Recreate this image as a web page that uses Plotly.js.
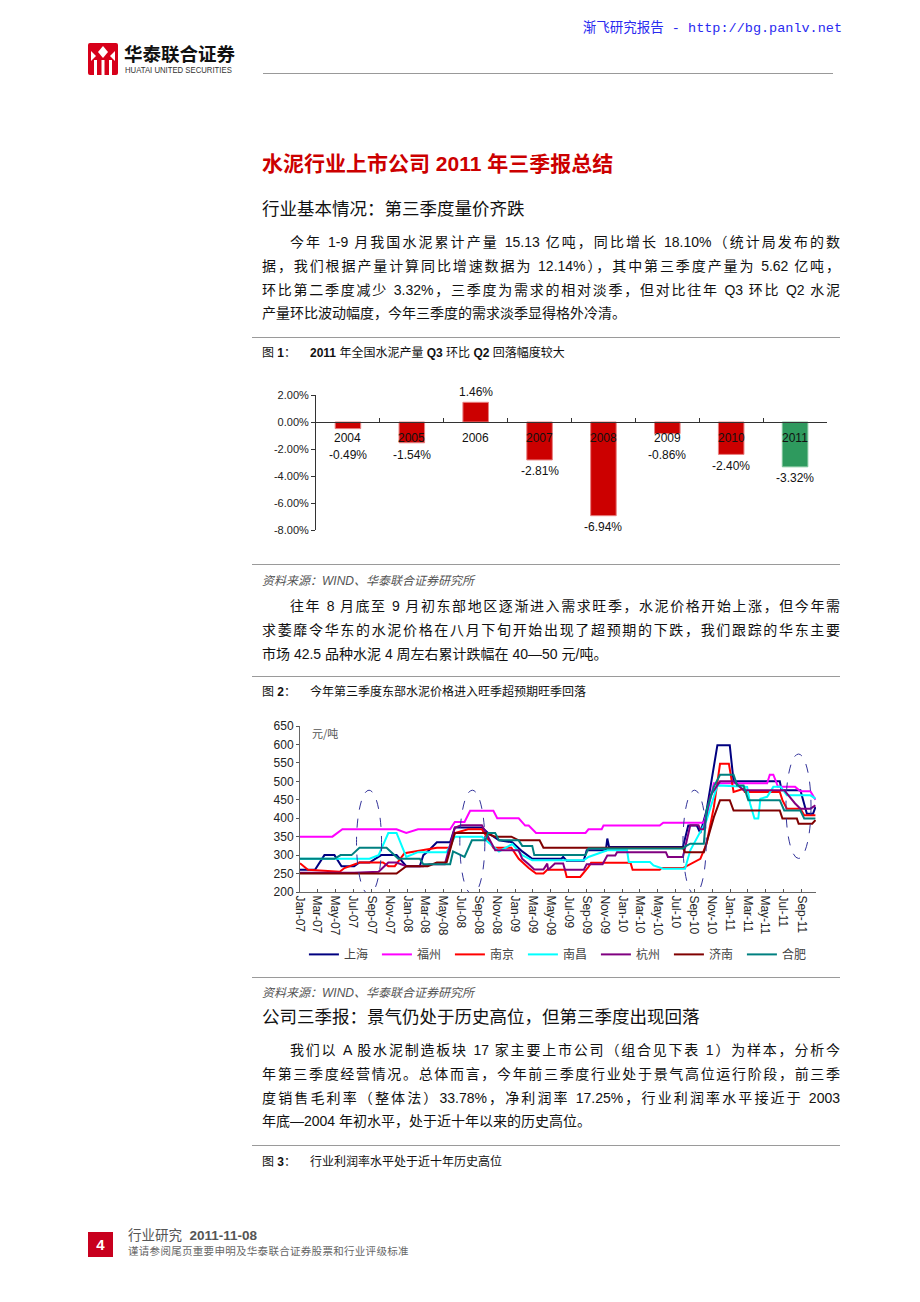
<!DOCTYPE html>
<html lang="zh-CN">
<head>
<meta charset="utf-8">
<script src="https://cdn.plot.ly/plotly-3.0.1.min.js"></script>
<style>
  body { margin: 0; background: #fff; }
  #page { position: relative; width: 920px; height: 1302px; overflow: hidden;
          font-family: "Liberation Sans", "Noto Sans CJK SC", sans-serif; color: #111; }
  .abs { position: absolute; white-space: nowrap; }
  .rule { position: absolute; left: 252px; width: 588px; height: 0; border-top: 1px solid #9a9a9a; }
  .para { position: absolute; left: 262px; width: 578px; font-size: 14px; line-height: 23.8px; }
  .para div { text-align: justify; text-align-last: justify; }
  .para div.ind { padding-left: 28px; }
  .para div.last { text-align-last: left; }
  .fig { position: absolute; left: 262px; font-size: 12px; line-height: 16px; color: #111; }
  .fig span.t { position: absolute; left: 48px; white-space: nowrap; }
  .src { position: absolute; left: 262px; font-size: 12px; line-height: 16px; font-style: italic; color: #555; white-space: nowrap; }
  .h2 { position: absolute; left: 262px; font-size: 17.5px; line-height: 22px; color: #111; white-space: nowrap; }
</style>
</head>
<body>
<div id="page">

  <!-- header -->
  <div class="abs" style="right:78px; top:20px; font-size:13.5px; line-height:18px; color:#2a2af0; font-family:'Liberation Mono','Noto Sans CJK SC',monospace;">渐飞研究报告 - http://bg.panlv.net</div>
  <svg class="abs" style="left:88px; top:43px" width="30" height="32" viewBox="0 0 30 32">
    <rect width="30" height="32" rx="2" fill="#d7001a"/>
    <path d="M15 3 L20 9 L15 15 L10 9 Z" fill="#fff"/>
    <path d="M3 8 L8 13 L3 18 Z" fill="#fff"/>
    <path d="M27 8 L22 13 L27 18 Z" fill="#fff"/>
    <rect x="6" y="17" width="3" height="15" fill="#fff"/>
    <rect x="13.5" y="17" width="3" height="15" fill="#fff"/>
    <rect x="21" y="17" width="3" height="15" fill="#fff"/>
  </svg>
  <div class="abs" style="left:124px; top:41px; font-size:18.5px; line-height:24px; font-weight:bold; color:#111; font-family:'Noto Sans CJK SC',sans-serif;">华泰联合证券</div>
  <div class="abs" style="left:125px; top:65px; font-size:9px; line-height:10px; color:#333; transform:scaleX(0.86); transform-origin:left top;">HUATAI UNITED SECURITIES</div>
  <div class="abs" style="left:263px; top:73px; width:570px; border-top:1px solid #999;"></div>

  <!-- title -->
  <div class="abs" style="left:262px; top:151px; font-size:21px; line-height:26px; font-weight:bold; color:#cc0000;">水泥行业上市公司 2011 年三季报总结</div>
  <div class="h2" style="top:198px;">行业基本情况：第三季度量价齐跌</div>

  <div class="para" style="top:231px;">
    <div class="ind">今年 1-9 月我国水泥累计产量 15.13 亿吨，同比增长 18.10%（统计局发布的数</div>
    <div>据，我们根据产量计算同比增速数据为 12.14%），其中第三季度产量为 5.62 亿吨，</div>
    <div>环比第二季度减少 3.32%，三季度为需求的相对淡季，但对比往年 Q3 环比 Q2 水泥</div>
    <div class="last">产量环比波动幅度，今年三季度的需求淡季显得格外冷清。</div>
  </div>

  <div class="rule" style="top:337px;"></div>
  <div class="fig" style="top:345px;">图 <b>1</b>：<span class="t"><b>2011</b> 年全国水泥产量 <b>Q3</b> 环比 <b>Q2</b> 回落幅度较大</span></div>

  <div id="chart1" class="abs" style="left:252px; top:380px; width:590px; height:180px;"></div>

  <div class="rule" style="top:564px;"></div>
  <div class="src" style="top:573px;">资料来源：WIND、华泰联合证券研究所</div>

  <div class="para" style="top:595px;">
    <div class="ind">往年 8 月底至 9 月初东部地区逐渐进入需求旺季，水泥价格开始上涨，但今年需</div>
    <div>求萎靡令华东的水泥价格在八月下旬开始出现了超预期的下跌，我们跟踪的华东主要</div>
    <div class="last">市场 42.5 品种水泥 4 周左右累计跌幅在 40—50 元/吨。</div>
  </div>

  <div class="rule" style="top:676px;"></div>
  <div class="fig" style="top:684px;">图 <b>2</b>：<span class="t">今年第三季度东部水泥价格进入旺季超预期旺季回落</span></div>

  <div id="chart2" class="abs" style="left:252px; top:705px; width:590px; height:270px;"></div>

  <div class="rule" style="top:977px;"></div>
  <div class="src" style="top:985px;">资料来源：WIND、华泰联合证券研究所</div>
  <div class="h2" style="top:1006px;">公司三季报：景气仍处于历史高位，但第三季度出现回落</div>

  <div class="para" style="top:1039px;">
    <div class="ind">我们以 A 股水泥制造板块 17 家主要上市公司（组合见下表 1）为样本，分析今</div>
    <div>年第三季度经营情况。总体而言，今年前三季度行业处于景气高位运行阶段，前三季</div>
    <div>度销售毛利率（整体法）33.78%，净利润率 17.25%，行业利润率水平接近于 2003</div>
    <div class="last">年底—2004 年初水平，处于近十年以来的历史高位。</div>
  </div>

  <div class="rule" style="top:1145px;"></div>
  <div class="fig" style="top:1154px;">图 <b>3</b>：<span class="t">行业利润率水平处于近十年历史高位</span></div>

  <!-- footer -->
  <div class="abs" style="left:88px; top:1232px; width:25px; height:25px; background:#c8001e; color:#fff; font-weight:bold; font-size:15px; line-height:25px; text-align:center;">4</div>
  <div class="abs" style="left:128px; top:1227px; font-size:13.5px; line-height:18px; color:#555;">行业研究&nbsp; <b>2011-11-08</b></div>
  <div class="abs" style="left:128px; top:1245px; font-size:10.5px; line-height:13px; color:#666; letter-spacing:0.3px;">谨请参阅尾页重要申明及华泰联合证券股票和行业评级标准</div>
</div>

<script>
// 图1：各年 Q3 环比 Q2 水泥产量变化（%）
const years = ['2004', '2005', '2006', '2007', '2008', '2009', '2010', '2011'];
const q3VsQ2 = [-0.49, -1.54, 1.46, -2.81, -6.94, -0.86, -2.40, -3.32];
const pctTicks = [2, 0, -2, -4, -6, -8];

// 图2：华东主要市场 42.5 水泥价格（元/吨）
const cities = ['上海', '福州', '南京', '南昌', '杭州', '济南', '合肥'];

const shanghaiDates = ['2007-01-01','2007-02-21','2007-03-25','2007-04-28','2007-05-22','2007-07-04','2007-07-22','2007-08-25','2007-10-04','2007-11-25','2007-12-28','2008-02-12','2008-02-24','2008-03-10','2008-04-10','2008-05-25','2008-06-10','2008-09-10','2008-10-01','2008-11-07','2008-12-22','2009-01-25','2009-02-28','2009-06-07','2009-06-13','2009-06-25','2009-08-22','2009-09-01','2009-11-05','2009-11-10','2009-11-16','2010-07-25','2010-08-12','2010-09-10','2010-09-22','2010-10-13','2010-11-19','2010-12-31','2011-01-13','2011-06-19','2011-06-25','2011-08-28','2011-09-19','2011-10-10','2011-10-18'];
const shanghaiPrices = [260,260,300,300,270,270,280,280,300,300,270,270,300,310,335,335,375,375,360,340,335,310,290,290,295,285,285,313,313,345,322,322,380,380,360,420,598,598,500,500,476,476,412,412,430];

const fuzhouDates = ['2007-01-01','2007-04-21','2007-05-25','2007-11-25','2007-12-28','2008-02-06','2008-05-25','2008-06-10','2008-07-13','2008-08-01','2008-10-19','2008-11-01','2009-01-13','2009-02-04','2009-02-16','2009-03-13','2009-08-28','2009-09-07','2009-10-22','2009-10-28','2010-05-07','2010-05-19','2010-10-04','2010-10-20','2010-11-07','2011-05-07','2011-05-16','2011-05-28','2011-06-13','2011-08-10','2011-08-28','2011-10-01','2011-10-18'];
const fuzhouPrices = [350,350,370,370,360,370,370,390,390,420,420,400,400,380,380,360,360,370,370,380,380,388,388,430,495,495,518,518,485,485,473,473,450];

const nanjingDates = ['2007-01-01','2007-01-28','2007-05-16','2007-06-01','2007-07-22','2007-10-10','2007-10-28','2007-11-19','2007-12-22','2008-01-25','2008-03-10','2008-04-10','2008-05-25','2008-06-10','2008-07-25','2008-09-10','2008-10-19','2008-12-19','2009-01-13','2009-02-16','2009-03-13','2009-04-07','2009-04-20','2009-06-19','2009-06-25','2009-08-10','2009-09-07','2009-09-16','2010-01-28','2010-02-04','2010-05-07','2010-05-13','2010-07-25','2010-09-22','2010-10-13','2010-11-07','2010-11-28','2010-12-28','2011-01-13','2011-02-16','2011-02-20','2011-06-19','2011-06-28','2011-07-13','2011-08-28','2011-09-10','2011-10-18'];
const nanjingPrices = [278,260,255,265,280,280,270,270,305,310,315,320,320,360,370,370,320,320,290,265,250,250,260,260,241,241,268,279,279,260,260,265,265,290,330,430,548,548,471,480,471,471,449,426,426,408,408];

const nanchangDates = ['2007-01-01','2007-08-25','2007-09-25','2007-10-28','2007-11-25','2007-12-28','2008-02-06','2008-05-13','2008-06-10','2008-09-10','2008-11-07','2008-12-22','2009-01-25','2009-02-28','2009-08-22','2009-09-07','2009-11-10','2010-01-16','2010-01-22','2010-04-04','2010-04-16','2010-05-19','2010-08-01','2010-08-19','2010-10-13','2010-11-19','2011-02-28','2011-03-10','2011-03-25','2011-04-07','2011-04-14','2011-05-07','2011-05-28','2011-06-22','2011-07-13','2011-10-01','2011-10-18'];
const nanchangPrices = [290,290,300,360,360,295,308,308,350,350,310,330,300,286,286,295,313,313,281,281,272,263,263,313,394,489,485,440,399,399,453,458,485,485,462,462,453];

const hangzhouDates = ['2007-01-01','2007-07-04','2007-09-25','2007-10-28','2007-11-25','2007-12-28','2008-02-24','2008-03-16','2008-05-07','2008-06-10','2008-07-01','2008-09-10','2008-10-01','2008-10-25','2009-01-13','2009-01-25','2009-02-16','2009-03-07','2009-04-07','2009-04-20','2009-04-23','2009-05-16','2009-06-13','2009-06-19','2009-08-22','2009-09-01','2009-10-25','2009-11-10','2009-12-07','2009-12-13','2010-05-28','2010-06-04','2010-07-25','2010-08-19','2010-09-16','2010-09-22','2010-10-04','2010-10-25','2010-11-28','2011-01-13','2011-02-16','2011-07-04','2011-08-10','2011-08-28','2011-10-01','2011-10-18'];
const hangzhouPrices = [252,252,255,280,280,270,270,275,275,374,381,381,350,313,313,290,275,261,261,277,260,277,277,260,260,275,275,299,299,308,308,295,295,381,381,370,370,460,500,500,476,476,440,426,426,435];

const jinanDates = ['2007-01-01','2007-11-25','2007-12-28','2008-03-10','2008-04-10','2008-05-13','2008-06-10','2008-09-22','2008-10-25','2008-12-19','2009-01-13','2009-03-25','2009-04-07','2010-07-25','2010-08-01','2010-10-04','2010-11-07','2010-11-28','2010-12-31','2011-01-13','2011-06-19','2011-06-28','2011-08-16','2011-08-22','2011-10-07','2011-10-18'];
const jinanPrices = [250,250,270,270,280,280,360,360,350,350,340,340,320,320,308,308,403,449,449,421,421,399,399,385,385,395];

const hefeiDates = ['2007-01-01','2007-04-28','2007-05-19','2007-06-25','2007-07-22','2007-10-22','2007-12-01','2008-02-12','2008-02-24','2008-05-25','2008-06-04','2008-07-13','2008-08-07','2008-09-22','2008-10-01','2008-10-25','2008-11-07','2009-01-13','2009-01-25','2009-02-28','2009-03-07','2009-08-28','2009-09-07','2010-07-25','2010-08-05','2010-08-19','2010-10-04','2010-10-13','2010-11-07','2010-11-28','2011-01-13','2011-01-25','2011-02-16','2011-03-04','2011-06-19','2011-07-04','2011-08-28','2011-09-10','2011-10-18'];
const hefeiPrices = [290,290,300,300,320,320,290,290,275,275,310,295,340,340,360,360,340,340,325,325,300,300,318,318,325,331,331,421,485,518,518,489,489,449,449,421,421,399,399];

const cityDates = [shanghaiDates, fuzhouDates, nanjingDates, nanchangDates, hangzhouDates, jinanDates, hefeiDates];
const cityPrices = [shanghaiPrices, fuzhouPrices, nanjingPrices, nanchangPrices, hangzhouPrices, jinanPrices, hefeiPrices];
const cityColors = ['#000080', '#ff00ff', '#ff0000', '#00ffff', '#800080', '#800000', '#008080'];

const axisFont = {family: 'Liberation Sans, Arial, sans-serif', size: 11, color: '#222'};

// ---------- 图1 ----------
let barTrace = {
  type: 'bar',
  x: years,
  y: q3VsQ2,
  width: 0.4,
  marker: {
    color: years.map(y => y === '2011' ? '#2e9a5e' : '#cc0000'),
    line: {color: years.map(y => y === '2011' ? '#7cc49a' : '#e88080'), width: 1}
  },
  hoverinfo: 'skip'
};

// 年份标在零线下方，数值标在柱端外侧（离零线太近时往下让开年份）
let annos1 = [];
for (let i = 0; i < years.length; i++) {
  let v = q3VsQ2[i];
  annos1.push({x: i, y: 0, yshift: -16, text: years[i], showarrow: false,
               font: {family: axisFont.family, size: 12, color: '#111'}});
  annos1.push({x: i, y: v > 0 ? v : Math.min(v - 0.85, -2.45),
               yanchor: v > 0 ? 'bottom' : 'middle', yshift: v > 0 ? 1 : 0,
               text: v.toFixed(2) + '%', showarrow: false,
               font: {family: axisFont.family, size: 12, color: '#111'}});
}

let layout1 = {
  width: 590, height: 180,
  margin: {l: 64, r: 15, t: 15, b: 30},
  paper_bgcolor: '#fff', plot_bgcolor: '#fff',
  showlegend: false,
  xaxis: {type: 'category', range: [-0.5, 7.5], anchor: 'free', position: 0.8,
          showline: true, linecolor: '#333', linewidth: 1, ticks: 'inside', ticklen: 4,
          tickcolor: '#333', tickson: 'boundaries', showticklabels: false,
          showgrid: false, zeroline: false, fixedrange: true},
  yaxis: {range: [-8, 2], tickvals: pctTicks, ticktext: pctTicks.map(v => v.toFixed(2) + '%'),
          showline: true, linecolor: '#333', ticks: 'outside', ticklen: 4, tickcolor: '#333',
          showgrid: false, zeroline: false, tickfont: axisFont, fixedrange: true},
  annotations: annos1
};

Plotly.newPlot('chart1', [barTrace], layout1, {displayModeBar: false, staticPlot: true});

// ---------- 图2 ----------
let lines = [];
for (let i = 0; i < cities.length; i++) {
  lines.push({
    type: 'scatter', mode: 'lines',
    name: cities[i],
    x: cityDates[i],
    y: cityPrices[i],
    line: {color: cityColors[i], width: 2},
    hoverinfo: 'skip'
  });
}

const ringStyle = {color: '#33339a', width: 1, dash: 'dash'};

let layout2 = {
  width: 590, height: 270,
  margin: {l: 48, r: 26, t: 21, b: 83},
  paper_bgcolor: '#fff', plot_bgcolor: '#fff',
  xaxis: {type: 'date', range: ['2007-01-01', '2011-10-20'], tick0: '2007-01-01', dtick: 'M2',
          tickformat: '%b-%y', tickangle: 90, ticks: 'inside', ticklen: 3, tickcolor: '#555',
          showline: true, linecolor: '#666', showgrid: false, zeroline: false,
          tickfont: {family: axisFont.family, size: 12, color: '#222'}, fixedrange: true},
  yaxis: {range: [200, 650], dtick: 50, ticks: 'outside', ticklen: 3, tickcolor: '#555',
          showline: true, linecolor: '#666', showgrid: false, zeroline: false,
          tickfont: {family: axisFont.family, size: 12, color: '#222'}, fixedrange: true},
  legend: {orientation: 'h', xref: 'container', yref: 'container', x: 0.088, xanchor: 'left',
           y: 0.13, yanchor: 'top',
           entrywidth: 28, entrywidthmode: 'pixels', itemwidth: 30,
           font: {family: 'Noto Sans CJK SC, sans-serif', size: 12, color: '#444'}},
  annotations: [{xref: 'paper', yref: 'paper', x: 0.02, y: 1, xanchor: 'left', yanchor: 'top',
                 yshift: 3, text: '元/吨', showarrow: false,
                 font: {family: 'Noto Sans CJK SC, sans-serif', size: 11, color: '#555'}}],
  shapes: [
    {type: 'circle', xref: 'x', yref: 'y', x0: '2007-07-12', x1: '2007-10-05', y0: 193, y1: 476, line: ringStyle},
    {type: 'circle', xref: 'x', yref: 'y', x0: '2008-06-27', x1: '2008-09-20', y0: 193, y1: 476, line: ringStyle},
    {type: 'circle', xref: 'x', yref: 'y', x0: '2010-07-25', x1: '2010-10-12', y0: 193, y1: 476, line: ringStyle},
    {type: 'circle', xref: 'x', yref: 'y', x0: '2011-07-10', x1: '2011-10-03', y0: 291, y1: 574, line: ringStyle}
  ]
};

Plotly.newPlot('chart2', lines, layout2, {displayModeBar: false, staticPlot: true});
</script>
</body>
</html>
